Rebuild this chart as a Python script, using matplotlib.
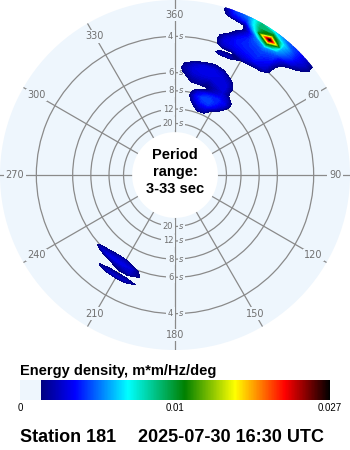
import numpy as np
import matplotlib
matplotlib.use('Agg')
import matplotlib.pyplot as plt
from matplotlib.colors import LinearSegmentedColormap, TwoSlopeNorm
from matplotlib.cm import ScalarMappable

disk = '#eef6fd'
grid_color = '#8a8a8a'
label_color = '#707070'

# spectrum grid: direction (deg) x frequency (Hz)
dirs = np.arange(0, 365, 5)
freqs = np.round(np.arange(0.03, 0.345, 0.01), 2)

ring_periods = [4, 6, 8, 12, 20]
angle_ticks = [0, 30, 60, 90, 120, 150, 180, 210, 240, 270, 300, 330]
angle_labels = ['360', '30', '60', '90', '120', '150', '180', '210', '240', '270', '300', '330']

# short-period sea from the north-east
sea_dirs = [20, 25, 30, 35, 40, 45, 50]
sea_freqs = [0.34, 0.33, 0.32, 0.31, 0.30, 0.29, 0.28, 0.27, 0.26, 0.25, 0.24, 0.23]
sea_energy = [
    [.0040, .0050, .0080, .0055, .0045, .0035, .0022],
    [.0040, .0050, .0090, .0070, .0050, .0040, .0022],
    [.0030, .0040, .0090, .0120, .0065, .0040, .0025],
    [.0000, .0015, .0080, .0270, .0060, .0040, .0018],
    [.0000, .0012, .0050, .0110, .0055, .0035, .0010],
    [.0000, .0025, .0045, .0055, .0045, .0020, .0000],
    [.0010, .0035, .0042, .0045, .0040, .0010, .0000],
    [.0025, .0038, .0040, .0042, .0035, .0000, .0000],
    [.0030, .0035, .0038, .0040, .0030, .0000, .0000],
    [.0025, .0030, .0033, .0035, .0026, .0000, .0000],
    [.0008, .0010, .0025, .0018, .0012, .0000, .0000],
    [.0022, .0022, .0005, .0000, .0000, .0000, .0000],
]

# northerly swell, 5-11 s
north_dirs = [0, 5, 10, 15, 20, 25, 30, 35, 40]
north_freqs = [0.20, 0.19, 0.18, 0.17, 0.16, 0.15, 0.14, 0.13, 0.12, 0.11, 0.10, 0.09]
north_energy = [
    [0, 0, .0008, .0012, .0016, .0008, 0, 0, 0],
    [0, .0014, .0025, .0030, .0030, .0025, .0008, 0, 0],
    [0, .0020, .0030, .0032, .0032, .0030, .0022, 0, 0],
    [0, .0016, .0028, .0030, .0030, .0030, .0028, .0010, 0],
    [0, .0008, .0022, .0025, .0022, .0028, .0030, .0008, 0],
    [0, 0, .0016, .0018, .0015, .0022, .0028, .0012, 0],
    [0, 0, 0, .0005, .0012, .0025, .0032, .0025, .0008],
    [0, 0, .0008, .0025, .0035, .0040, .0040, .0032, .0008],
    [0, 0, .0012, .0035, .0045, .0045, .0038, .0025, 0],
    [0, 0, .0008, .0030, .0040, .0042, .0032, .0012, 0],
    [0, 0, 0, .0018, .0030, .0030, .0012, 0, 0],
    [0, 0, 0, .0008, .0018, .0016, 0, 0, 0],
]

# south-westerly swell, 5-6 s
sw_dirs = [200, 205, 210, 215, 220, 225, 230]
sw_freqs = [0.20, 0.19, 0.18, 0.17, 0.16]
sw_energy = [
    [.0014, .0024, .0026, .0024, .0015, 0, 0],
    [0, .0008, .0010, .0010, .0006, 0, 0],
    [.0016, .0025, .0020, .0014, .0008, 0, 0],
    [.0012, .0028, .0032, .0032, .0030, .0025, .0008],
    [0, .0010, .0022, .0022, .0015, .0008, 0],
]

energy = np.zeros((len(freqs), len(dirs)))
for pd, pf, pv in [(sea_dirs, sea_freqs, sea_energy),
                   (north_dirs, north_freqs, north_energy),
                   (sw_dirs, sw_freqs, sw_energy)]:
    for i, f in enumerate(pf):
        for j, d in enumerate(pd):
            energy[int(round((f - 0.03) / 0.01)), d // 5] = pv[i][j]
energy[:, -1] = energy[:, 0]

norm = TwoSlopeNorm(vcenter=0.01, vmin=0.0, vmax=0.027)
cmap = LinearSegmentedColormap.from_list('wave', [
    (0.0, disk), (0.068, disk), (0.0681, '#000080'), (0.177, '#0000ff'),
    (0.348, '#00ffff'), (0.532, '#008000'), (0.694, '#ffff00'),
    (0.855, '#ff0000'), (1.0, '#000000')], N=512)

fig = plt.figure(figsize=(3.5, 4.5), dpi=100)
ax = fig.add_axes([0, 100 / 450, 1, 350 / 450], projection='polar')
ax.set_theta_zero_location('N')
ax.set_theta_direction(-1)
ax.set_rlim(1 / 33, 1 / 3)
ax.set_rorigin(-0.068)
ax.set_facecolor(disk)
# draw() turns the inner spine back on, so blank them instead of hiding
for sp in ax.spines.values():
    sp.set_linewidth(0)
    sp.set_color('none')
ax.set_xticks(np.deg2rad(angle_ticks))
ax.set_xticklabels([])
ax.set_yticks([1 / p for p in ring_periods])
ax.set_yticklabels([])
ax.grid(True, color=grid_color, lw=0.9)
ax.set_axisbelow(True)

# compass labels sit inside the disk
for a, lab in zip(angle_ticks, angle_labels):
    ax.text(np.deg2rad(a), 0.299, lab, ha='center', va='center', fontsize=7,
            color=label_color, zorder=1.5,
            bbox=dict(boxstyle='square,pad=0.15', fc=disk, ec='none'))

# period labels on the N-S line
for p in ring_periods:
    for a in (0, np.pi):
        ax.annotate(str(p), xy=(a, 1 / p), xytext=(-1.2, 0), textcoords='offset points',
                    ha='right', va='center', fontsize=6, color=label_color, zorder=1.5,
                    bbox=dict(boxstyle='square,pad=0.2', fc=disk, ec='none'))
        ax.annotate('s', xy=(a, 1 / p), xytext=(3, 0), textcoords='offset points',
                    ha='left', va='center', fontsize=6, color=label_color, zorder=1.5,
                    style='italic',
                    bbox=dict(boxstyle='square,pad=0.2', fc=disk, ec='none'))

levels = np.asarray(norm.inverse(np.linspace(0.068, 1.0, 90)))
th, rr = np.meshgrid(np.deg2rad(dirs), freqs)
ax.contourf(th, rr, energy, levels=levels, cmap=cmap, norm=norm, extend='max', zorder=2)

ax.text(0.5, 0.509, 'Period\nrange:\n3-33 sec', transform=ax.transAxes,
        ha='center', va='center', fontsize=10.5, fontweight='bold',
        family='Liberation Sans', linespacing=1.25)

# colour scale
cax = fig.add_axes([20 / 350, 50 / 450, 310 / 350, 20 / 450])
cb = fig.colorbar(ScalarMappable(norm=norm, cmap=cmap), cax=cax,
                  orientation='horizontal', ticks=[0, 0.01, 0.027])
cb.set_ticklabels(['0', '0.01', '0.027'])
cb.outline.set_visible(False)
cax.tick_params(length=0, labelsize=7, pad=2)
for t in cax.get_xticklabels():
    t.set_family('Liberation Sans')

fig.text(20 / 350, 1 - 371 / 450, 'Energy density, m*m/Hz/deg', ha='left', va='center',
         fontsize=10.5, fontweight='bold', family='Liberation Sans')
fig.text(20 / 350, 1 - 437 / 450, 'Station 181', ha='left', va='center',
         fontsize=13, fontweight='bold', family='Liberation Sans')
fig.text(138 / 350, 1 - 437 / 450, '2025-07-30 16:30 UTC', ha='left', va='center',
         fontsize=13, fontweight='bold', family='Liberation Sans')

fig.savefig('out.png', dpi=100, facecolor='white')
